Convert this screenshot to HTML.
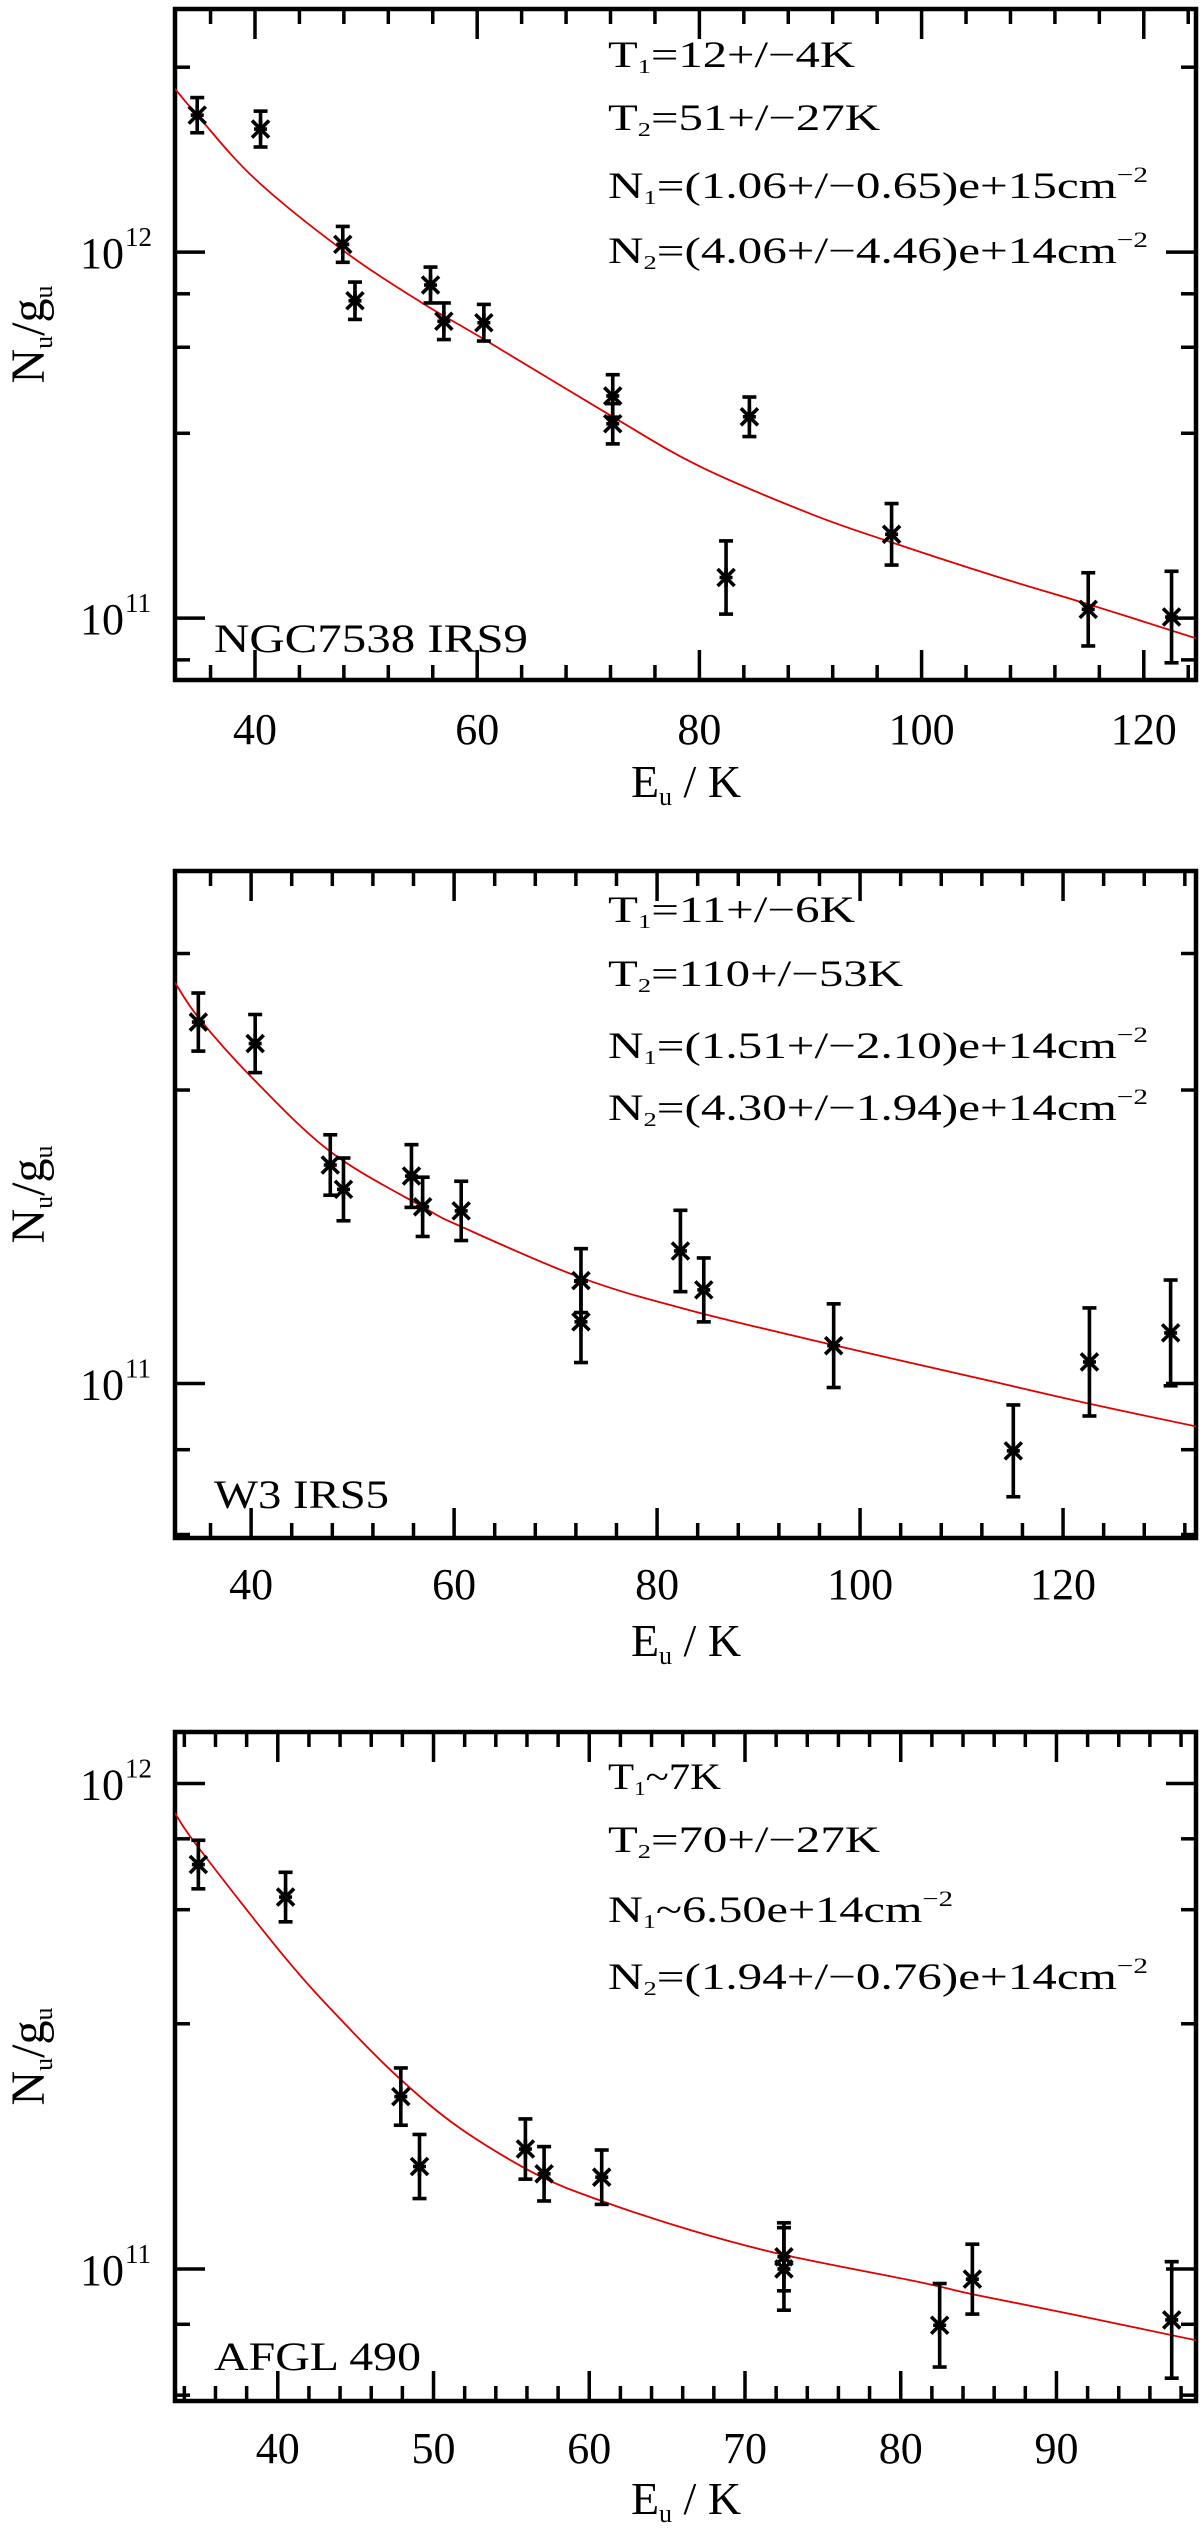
<!DOCTYPE html>
<html><head><meta charset="utf-8"><title>Rotation diagrams</title>
<style>
html,body{margin:0;padding:0;background:#fff;}
svg{display:block;font-family:"Liberation Serif","DejaVu Serif",serif;}
</style></head>
<body>
<svg id="chart" width="1200" height="2528" viewBox="0 0 1200 2528" xmlns="http://www.w3.org/2000/svg"></svg>
<script>
// ---- Panel 1: NGC7538 IRS9 ----
const p1Energy = [34.8, 40.5, 47.9, 49.0, 55.8, 57.0, 60.6, 72.2, 72.2, 82.4, 84.5, 97.3, 115.0, 122.5];
const p1LogN   = [12.374, 12.336, 12.021, 11.867, 11.91, 11.811, 11.807, 11.607, 11.531, 11.111, 11.55, 11.229, 11.024, 11.003];
const p1Err    = [0.048, 0.049, 0.049, 0.051, 0.049, 0.05, 0.05, 0.058, 0.055, 0.1, 0.054, 0.084, 0.1, 0.125];
const p1FitE   = [32.8, 34.8, 40, 47.9, 55, 60.6, 72.2, 80, 90, 97.3, 106.7, 115, 124.7];
const p1FitLog = [12.446, 12.374, 12.2, 12.005, 11.862, 11.762, 11.55, 11.415, 11.285, 11.207, 11.114, 11.038, 10.945];
const p1XTicks = [40, 60, 80, 100, 120];
const p1YTicks = [11, 12];
const p1Text = ["T|1|=12+/−4K", "T|2|=51+/−27K", "N|1|=(1.06+/−0.65)e+15cm^−2", "N|2|=(4.06+/−4.46)e+14cm^−2"];

// ---- Panel 2: W3 IRS5 ----
const p2Energy = [34.8, 40.4, 47.8, 49.1, 55.8, 56.9, 60.7, 72.5, 72.5, 82.3, 84.6, 97.4, 115.1, 122.6, 130.6];
const p2LogN   = [11.622, 11.585, 11.376, 11.334, 11.357, 11.304, 11.297, 11.177, 11.106, 11.228, 11.161, 11.065, 10.884, 11.037, 11.087];
const p2Err    = [0.05, 0.05, 0.052, 0.054, 0.054, 0.051, 0.051, 0.055, 0.07, 0.07, 0.055, 0.072, 0.079, 0.093, 0.091];
const p2FitE   = [32.5, 34.8, 40, 47.8, 56.9, 60.7, 72.5, 83.2, 97.4, 113.4, 122.6, 133.1];
const p2FitLog = [11.69, 11.63, 11.528, 11.399, 11.304, 11.27, 11.182, 11.126, 11.066, 11.002, 10.965, 10.926];
const p2XTicks = [40, 60, 80, 100, 120];
const p2YTicks = [11];
const p2Text = ["T|1|=11+/−6K", "T|2|=110+/−53K", "N|1|=(1.51+/−2.10)e+14cm^−2", "N|2|=(4.30+/−1.94)e+14cm^−2"];

// ---- Panel 3: AFGL 490 ----
const p3Energy = [34.9, 40.5, 47.9, 49.1, 55.9, 57.1, 60.8, 72.5, 72.5, 82.5, 84.6, 97.4];
const p3LogN   = [11.833, 11.766, 11.355, 11.211, 11.247, 11.196, 11.189, 11.0, 11.025, 10.884, 10.979, 10.895];
const p3Err    = [0.05, 0.051, 0.059, 0.066, 0.062, 0.056, 0.056, 0.085, 0.07, 0.086, 0.072, 0.12];
const p3FitE   = [33.4, 34.9, 40.5, 44.3, 47.9, 51.7, 56.6, 60.8, 66.5, 72.5, 81.2, 84.6, 91.1, 98.96];
const p3FitLog = [11.939, 11.868, 11.64, 11.505, 11.39, 11.29, 11.195, 11.14, 11.08, 11.029, 10.973, 10.948, 10.906, 10.853];
const p3XTicks = [40, 50, 60, 70, 80, 90];
const p3YTicks = [11, 12];
const p3Text = ["T|1|~7K", "T|2|=70+/−27K", "N|1|~6.50e+14cm^−2", "N|2|=(1.94+/−0.76)e+14cm^−2"];

const NS = "http://www.w3.org/2000/svg";
const svg = document.getElementById("chart");
function mk(tag, attrs, parent) {
  const e = document.createElementNS(NS, tag);
  for (const k in attrs) e.setAttribute(k, attrs[k]);
  (parent || svg).appendChild(e);
  return e;
}
function smoothPath(P) {
  let d = "M" + P[0][0].toFixed(1) + "," + P[0][1].toFixed(1);
  for (let i = 0; i < P.length - 1; i++) {
    const p0 = P[Math.max(0, i - 1)], p1 = P[i], p2 = P[i + 1], p3 = P[Math.min(P.length - 1, i + 2)];
    const c1x = p1[0] + (p2[0] - p0[0]) / 6, c1y = p1[1] + (p2[1] - p0[1]) / 6;
    const c2x = p2[0] - (p3[0] - p1[0]) / 6, c2y = p2[1] - (p3[1] - p1[1]) / 6;
    d += " C" + c1x.toFixed(1) + "," + c1y.toFixed(1) + " " + c2x.toFixed(1) + "," + c2y.toFixed(1) + " " + p2[0].toFixed(1) + "," + p2[1].toFixed(1);
  }
  return d;
}

const panels = [
  {key:"p1", E:p1Energy, L:p1LogN, R:p1Err, fE:p1FitE, fL:p1FitLog, xt:p1XTicks, yt:p1YTicks, txt:p1Text,
   left:175, right:1196, top:9, bottom:680, xmin:32.8, xmax:124.7, ytop:12.664, ybot:10.831, minorX:4,
   label:"NGC7538 IRS9", labelW:314, labelY:652, textY:[67,130,198,263], tickLabY:744, titleY:797,
   textW:[247,272,540,540]},
  {key:"p2", E:p2Energy, L:p2LogN, R:p2Err, fE:p2FitE, fL:p2FitLog, xt:p2XTicks, yt:p2YTicks, txt:p2Text,
   left:175, right:1196, top:871, bottom:1538, xmin:32.5, xmax:133.1, ytop:11.882, ybot:10.734, minorX:4,
   label:"W3 IRS5", labelW:175, labelY:1508, textY:[922,986,1058,1120], tickLabY:1599, titleY:1656,
   textW:[247,295,540,540]},
  {key:"p3", E:p3Energy, L:p3LogN, R:p3Err, fE:p3FitE, fL:p3FitLog, xt:p3XTicks, yt:p3YTicks, txt:p3Text,
   left:175, right:1196, top:1732, bottom:2401, xmin:33.4, xmax:98.96, ytop:12.106, ybot:10.728, minorX:2,
   label:"AFGL 490", labelW:207, labelY:2370, textY:[1789,1852,1922,1989], tickLabY:2463, titleY:2514,
   textW:[113,272,345,540]}
];
const minorOffsets = [0.505, 0.74, 0.886];

panels.forEach((p, pi) => {
  const g = mk("g", {});
  
  
  const xs = v => p.left + (v - p.xmin) / (p.xmax - p.xmin) * (p.right - p.left);
  const ys = v => p.top + (p.ytop - v) / (p.ytop - p.ybot) * (p.bottom - p.top);
  const clipId = "clip" + pi;
  const defs = mk("defs", {}, g);
  const cp = mk("clipPath", {id: clipId}, defs);
  mk("rect", {x:p.left, y:p.top, width:p.right-p.left, height:p.bottom-p.top}, cp);

  const ticks = mk("g", {stroke:"#000", "stroke-width":3.5}, g);
  
  
  const x0 = Math.ceil(p.xmin / p.minorX) * p.minorX;
  for (let v = x0; v <= p.xmax + 1e-9; v += p.minorX) {
    const major = p.xt.indexOf(Math.round(v)) >= 0;
    const len = major ? 30 : 15, X = xs(v);
    mk("line", {x1:X, y1:p.bottom, x2:X, y2:p.bottom-len}, ticks);
    mk("line", {x1:X, y1:p.top, x2:X, y2:p.top+len}, ticks);
  }
  for (let d = Math.floor(p.ybot); d <= Math.ceil(p.ytop); d++) {
    const vals = [[d, 30]];
    minorOffsets.forEach(o => vals.push([d + o, 15]));
    vals.forEach(([v, len]) => {
      if (v < p.ybot || v > p.ytop) return;
      const Y = ys(v);
      mk("line", {x1:p.left, y1:Y, x2:p.left+len, y2:Y}, ticks);
      mk("line", {x1:p.right, y1:Y, x2:p.right-len, y2:Y}, ticks);
    });
  }
  const fr = mk("rect", {x:p.left, y:p.top, width:p.right-p.left, height:p.bottom-p.top, fill:"none", stroke:"#000", "stroke-width":4.5}, g);
  
  

  p.xt.forEach(v => {
    const t = mk("text", {x:xs(v), y:p.tickLabY, "font-size":44, "text-anchor":"middle"}, g);
    t.textContent = v;
    
    
  });
  p.yt.forEach(v => {
    const Y = ys(v);
    const t = mk("text", {x:124, y:Y+16, "font-size":44, "text-anchor":"end"}, g);
    t.textContent = "10";
    
    
    const s = mk("text", {x:125, y:Y-6, "font-size":27}, g);
    s.textContent = String(v);
    
    
  });
  const xt = mk("text", {x:686, y:p.titleY, "font-size":46, "text-anchor":"middle"}, g);
  
  
  xt.innerHTML = 'E<tspan font-size="26" dy="8">u</tspan><tspan dy="-8">  /  K</tspan>';
  const yc = (p.top + p.bottom) / 2 - 10;
  const yt = mk("text", {x:0, y:0, "font-size":48, "text-anchor":"middle", transform:"translate(44," + yc + ") rotate(-90)"}, g);
  
  
  yt.innerHTML = 'N<tspan font-size="26" dy="8">u</tspan><tspan dy="-8">/g</tspan><tspan font-size="26" dy="8">u</tspan>';

  const P = p.fE.map((e, i) => [xs(e), ys(p.fL[i])]);
  const fit = mk("path", {d:smoothPath(P), fill:"none", stroke:"#e00000", "stroke-width":1.8, "clip-path":"url(#" + clipId + ")"}, g);
  
  

  const dg = mk("g", {stroke:"#000", "stroke-width":3.6, "clip-path":"url(#" + clipId + ")"}, g);
  
  
  p.E.forEach((e, i) => {
    const X = xs(e), Y = ys(p.L[i]), Yh = ys(p.L[i] + p.R[i]), Yl = ys(p.L[i] - p.R[i]);
    const pg = mk("g", {}, dg);
    
    
    mk("line", {x1:X, y1:Yh, x2:X, y2:Yl}, pg);
    mk("line", {x1:X-7, y1:Yh, x2:X+7, y2:Yh}, pg);
    mk("line", {x1:X-7, y1:Yl, x2:X+7, y2:Yl}, pg);
    const r = 8.5;
    mk("line", {x1:X-r, y1:Y-r, x2:X+r, y2:Y+r}, pg);
    mk("line", {x1:X-r, y1:Y+r, x2:X+r, y2:Y-r}, pg);
    mk("line", {x1:X, y1:Y-r-1, x2:X, y2:Y+r+1}, pg);
    mk("line", {x1:X-r+2, y1:Y, x2:X+r-2, y2:Y}, pg);
  });

  p.txt.forEach((s, i) => {
    const m = s.split("|");
    let html = m[0] + '<tspan font-size="20" dy="6">' + m[1] + '</tspan>';
    let rest = m[2];
    let sup = "";
    if (rest.indexOf("^") >= 0) { sup = rest.split("^")[1]; rest = rest.split("^")[0]; }
    html += '<tspan dy="-6">' + rest + '</tspan>';
    if (sup) html += '<tspan font-size="22" dy="-16">' + sup + '</tspan>';
    const t = mk("text", {x:608, y:p.textY[i], "font-size":37, textLength:p.textW[i], lengthAdjust:"spacingAndGlyphs"}, g);
    t.innerHTML = html;
    
    
  });

  const sl = mk("text", {x:214, y:p.labelY, "font-size":40, textLength:p.labelW, lengthAdjust:"spacingAndGlyphs"}, g);
  sl.textContent = p.label;
  
  
});
</script>
</body></html>
